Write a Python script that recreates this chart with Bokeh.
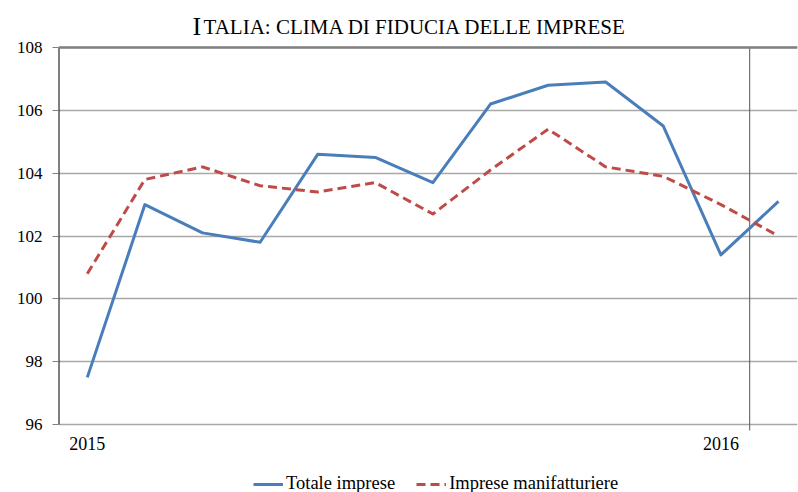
from bokeh.plotting import figure
from bokeh.models import Range1d, FixedTicker, Span, Label, Legend, LegendItem
from bokeh.embed import file_html
from bokeh.resources import INLINE

# ---- data ----
months = ["gen 2015", "feb 2015", "mar 2015", "apr 2015", "mag 2015", "giu 2015",
          "lug 2015", "ago 2015", "set 2015", "ott 2015", "nov 2015", "dic 2015",
          "gen 2016"]
totale_imprese = [97.5, 103.0, 102.1, 101.8, 104.6, 104.5, 103.7, 106.2, 106.8,
                  106.9, 105.5, 101.4, 103.1]
imprese_manifatturiere = [100.8, 103.8, 104.2, 103.6, 103.4, 103.7, 102.7, 104.1,
                          105.4, 104.2, 103.9, 103.0, 102.0]
y_ticks = [96, 98, 100, 102, 104, 106, 108]
year_labels = ["2015", "2016"]
year_label_index = [0, 11]
year_boundary = 11.5

x = list(range(len(months)))
FONT = "Liberation Serif"

W, H = 798, 492
TOP_PX, BOTTOM_PX = 47, 424          # where 108 and 96 sit on the canvas
ppu = (BOTTOM_PX - TOP_PX) / (y_ticks[-1] - y_ticks[0])
y_start = y_ticks[0] - (H - BOTTOM_PX) / ppu
y_end = y_ticks[-1] + TOP_PX / ppu
x_start = -0.5

p = figure(width=W, height=H, output_backend="svg", toolbar_location=None,
           x_range=Range1d(x_start, 12.33), y_range=Range1d(y_start, y_end),
           min_border_left=58, min_border_right=1, min_border_top=0,
           min_border_bottom=0)
p.outline_line_color = None
p.background_fill_color = "white"
p.border_fill_color = "white"
p.xaxis.visible = False

# grid
p.xgrid.grid_line_color = None
p.ygrid.ticker = FixedTicker(ticks=y_ticks)
p.ygrid.grid_line_color = "#A8A8A8"
p.ygrid.grid_line_width = 1.5

# y axis (ticks + labels only; line drawn below)
p.yaxis.ticker = FixedTicker(ticks=y_ticks)
p.yaxis.axis_line_color = None
p.yaxis.major_tick_line_color = "#808080"
p.yaxis.major_tick_out = 6
p.yaxis.major_tick_in = 0
p.yaxis.minor_tick_line_color = None
p.yaxis.major_label_standoff = 10
p.yaxis.major_label_text_font = FONT
p.yaxis.major_label_text_font_size = "17px"
p.yaxis.major_label_text_color = "black"

# axis line, top line, year boundary
p.segment(x0=[x_start], y0=[y_ticks[0]], x1=[x_start], y1=[y_ticks[-1]],
          line_color="black", line_width=2)
p.add_layout(Span(location=y_ticks[-1], dimension="width", line_color="#808080", line_width=2.5))
p.segment(x0=[year_boundary], y0=[y_ticks[0] - 6 / ppu], x1=[year_boundary], y1=[y_ticks[-1]],
          line_color="#555555", line_width=1)

# series
r1 = p.line(x, totale_imprese, line_color="#4A7EBB", line_width=3, line_join="round")
r2 = p.line(x, imprese_manifatturiere, line_color="#BE4B48", line_width=3,
            line_dash="9 5", line_join="round")

# year labels
for xi, t in zip(year_label_index, year_labels):
    p.add_layout(Label(x=xi, y=H - 443, x_units="data", y_units="screen", text=t,
                       text_font=FONT, text_font_size="18px", text_color="black",
                       text_baseline="middle", text_align="center"))

legend = Legend(items=[LegendItem(label="Totale imprese", renderers=[r1]),
                       LegendItem(label="Imprese manifatturiere", renderers=[r2])],
                location=(195, -2), orientation="horizontal",
                glyph_width=30, glyph_height=20, label_standoff=3, spacing=21,
                padding=0, margin=0, border_line_color=None,
                background_fill_alpha=0,
                label_text_font=FONT, label_text_font_size="18.5px",
                label_text_color="black")
p.add_layout(legend, "center")

# title (small caps rendering)
p.add_layout(Label(x=134, y=H - 26, x_units="screen", y_units="screen", text="I",
                   text_font=FONT, text_font_size="26px", text_color="black",
                   text_baseline="alphabetic", text_align="left"))
p.add_layout(Label(x=145, y=H - 26, x_units="screen", y_units="screen",
                   text="TALIA: CLIMA DI FIDUCIA DELLE IMPRESE",
                   text_font=FONT, text_font_size="21px", text_color="black",
                   text_baseline="alphabetic", text_align="left"))

open("out.html", "w").write(file_html(p, INLINE))
